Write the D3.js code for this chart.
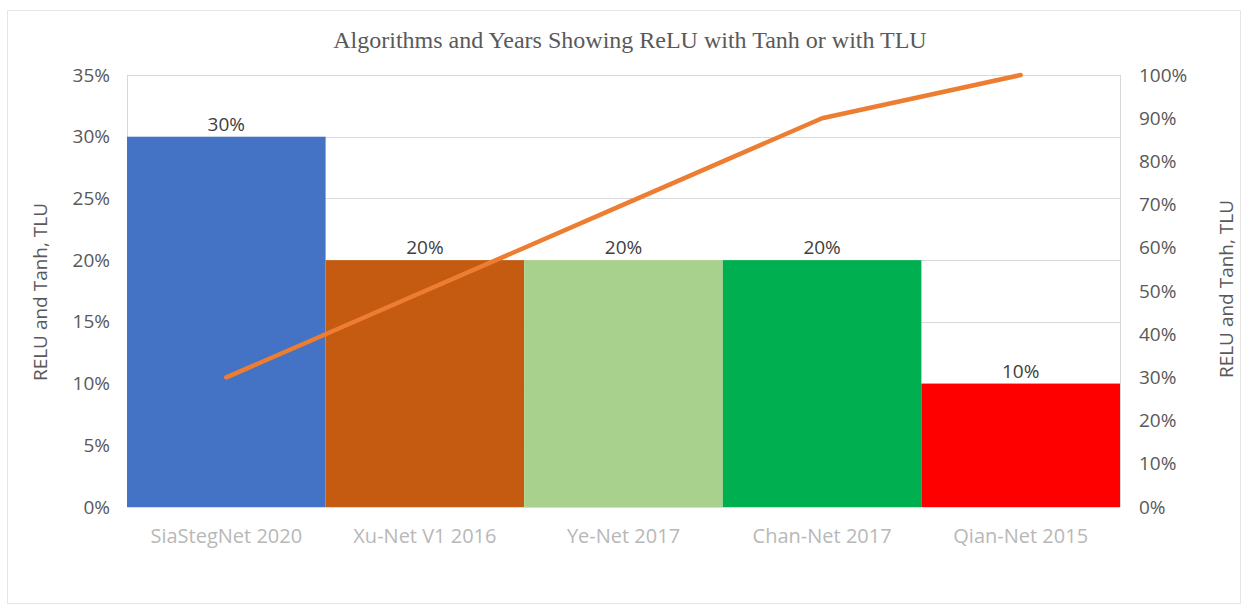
<!DOCTYPE html>
<html>
<head>
<meta charset="utf-8">
<script src="https://cdn.jsdelivr.net/npm/d3@7"></script>
<style>
  html, body { margin: 0; padding: 0; background: #fff; }
  svg { display: block; }
</style>
</head>
<body>
<svg id="chart" width="1249" height="610"></svg>
<script>
// Share of each algorithm (bars) and cumulative share (Pareto line)
const categories = ["SiaStegNet 2020", "Xu-Net V1 2016", "Ye-Net 2017", "Chan-Net 2017", "Qian-Net 2015"];
const shares = [0.30, 0.20, 0.20, 0.20, 0.10];
const cumulative = [0.30, 0.50, 0.70, 0.90, 1.00];
const barColors = ["#4472c4", "#c55a11", "#a9d18e", "#00b050", "#ff0000"];
const leftTicks = [0, 0.05, 0.10, 0.15, 0.20, 0.25, 0.30, 0.35];
const rightTicks = [0, 0.1, 0.2, 0.3, 0.4, 0.5, 0.6, 0.7, 0.8, 0.9, 1.0];
const title = "Algorithms and Years Showing ReLU with Tanh or with TLU";
const axisTitle = "RELU and Tanh, TLU";

const svg = d3.select("#chart");
const plot = { left: 127, right: 1120, top: 75, bottom: 507 };

// outer chart frame
svg.append("rect")
  .attr("x", 7.5).attr("y", 10.5).attr("width", 1233).attr("height", 593)
  .attr("fill", "#fff").attr("stroke", "#e6e6e6").attr("stroke-width", 1);

const x = d3.scaleBand().domain(categories).range([plot.left, plot.right]).paddingInner(0).paddingOuter(0);
const yL = d3.scaleLinear().domain([0, 0.35]).range([plot.bottom, plot.top]);
const yR = d3.scaleLinear().domain([0, 1]).range([plot.bottom, plot.top]);

const fmt = d3.format(".0%");
const sans = "'Open Sans', 'Noto Sans', sans-serif";

// horizontal gridlines from the left axis
svg.append("g")
  .selectAll("line").data(leftTicks).join("line")
  .attr("x1", plot.left).attr("x2", plot.right)
  .attr("y1", d => Math.round(yL(d)) + 0.5).attr("y2", d => Math.round(yL(d)) + 0.5)
  .attr("stroke", "#d9d9d9").attr("stroke-width", 1.2);

// plot-area side borders
svg.append("g").selectAll("line").data([plot.left, plot.right]).join("line")
  .attr("x1", d => d + 0.5).attr("x2", d => d + 0.5)
  .attr("y1", plot.top).attr("y2", plot.bottom)
  .attr("stroke", "#d9d9d9").attr("stroke-width", 1);

// bars
svg.append("g").selectAll("rect").data(shares).join("rect")
  .attr("x", (d, i) => x(categories[i]))
  .attr("y", d => yL(d))
  .attr("width", x.bandwidth())
  .attr("height", d => yL(0) - yL(d))
  .attr("fill", (d, i) => barColors[i]);

// value labels
svg.append("g").selectAll("text").data(shares).join("text")
  .attr("x", (d, i) => x(categories[i]) + x.bandwidth() / 2)
  .attr("y", d => yL(d) - 6)
  .attr("text-anchor", "middle")
  .attr("font-family", sans).attr("font-size", 19)
  .attr("fill", "#404040")
  .text(d => fmt(d));

// cumulative line
const line = d3.line()
  .x((d, i) => x(categories[i]) + x.bandwidth() / 2)
  .y(d => yR(d));
svg.append("path").datum(cumulative)
  .attr("d", line)
  .attr("fill", "none")
  .attr("stroke", "#ed7d31")
  .attr("stroke-width", 4.5)
  .attr("stroke-linejoin", "round")
  .attr("stroke-linecap", "round");

// left axis
const leftAxis = svg.append("g")
  .attr("transform", `translate(${plot.left},0)`)
  .call(d3.axisLeft(yL).tickValues(leftTicks).tickFormat(fmt).tickSize(0).tickPadding(17));
leftAxis.select(".domain").remove();
leftAxis.selectAll("text").attr("font-family", sans).attr("font-size", 19).attr("fill", "#595959");

// right axis
const rightAxis = svg.append("g")
  .attr("transform", `translate(${plot.right},0)`)
  .call(d3.axisRight(yR).tickValues(rightTicks).tickFormat(fmt).tickSize(0).tickPadding(19));
rightAxis.select(".domain").remove();
rightAxis.selectAll("text").attr("font-family", sans).attr("font-size", 19).attr("fill", "#595959");

// category axis
const bottomAxis = svg.append("g")
  .attr("transform", `translate(0,${plot.bottom})`)
  .call(d3.axisBottom(x).tickSize(0).tickPadding(22));
bottomAxis.select(".domain").remove();
bottomAxis.selectAll("text").attr("font-family", sans).attr("font-size", 20).attr("fill", "#b8b8b8");

// axis titles
svg.append("text")
  .attr("transform", `translate(40,292) rotate(-90)`)
  .attr("text-anchor", "middle").attr("dy", "0.35em")
  .attr("font-family", sans).attr("font-size", 19).attr("fill", "#595959")
  .text(axisTitle);
svg.append("text")
  .attr("transform", `translate(1226,289) rotate(-90)`)
  .attr("text-anchor", "middle").attr("dy", "0.35em")
  .attr("font-family", sans).attr("font-size", 19).attr("fill", "#595959")
  .text(axisTitle);

// chart title
svg.append("text")
  .attr("x", 630).attr("y", 48)
  .attr("text-anchor", "middle")
  .attr("font-family", "'Liberation Serif', 'DejaVu Serif', serif").attr("font-size", 24)
  .attr("fill", "#595959")
  .text(title);
</script>
</body>
</html>
